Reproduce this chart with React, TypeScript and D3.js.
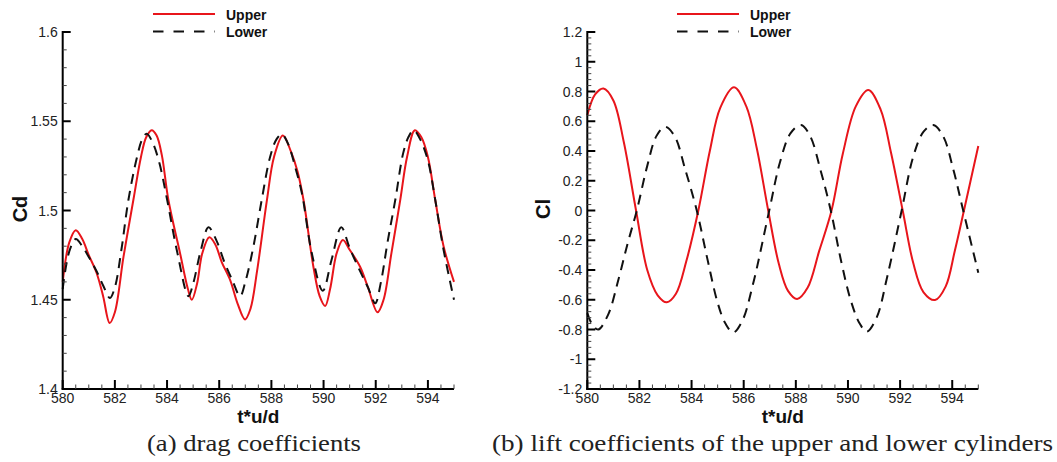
import React from "react";
import * as d3 from "d3";

// ---------- DATA ----------
// Drag coefficient, upper cylinder (red solid)
const cdUpperT = [580.0, 580.25, 580.5, 580.75, 581.0, 581.3, 581.55, 581.8, 582.0, 582.33, 582.71, 583.0, 583.2, 583.41, 583.6, 583.8, 584.05, 584.5, 584.8, 584.95, 585.15, 585.35, 585.62, 585.85, 586.1, 586.42, 586.7, 586.99, 587.2, 587.45, 587.83, 588.1, 588.44, 588.75, 589.0, 589.23, 589.61, 589.85, 590.06, 590.25, 590.5, 590.74, 591.0, 591.4, 591.7, 592.07, 592.3, 592.6, 592.94, 593.2, 593.5, 593.75, 594.0, 594.28, 594.6, 595.0];
const cdUpperV = [1.460, 1.482, 1.489, 1.484, 1.475, 1.465, 1.452, 1.437, 1.443, 1.474, 1.506, 1.530, 1.541, 1.545, 1.542, 1.531, 1.506, 1.476, 1.456, 1.450, 1.459, 1.476, 1.485, 1.481, 1.471, 1.461, 1.448, 1.439, 1.445, 1.466, 1.506, 1.530, 1.542, 1.533, 1.522, 1.506, 1.4685, 1.452, 1.4465, 1.456, 1.476, 1.4835, 1.478, 1.4685, 1.457, 1.443, 1.450, 1.476, 1.506, 1.530, 1.545, 1.541, 1.530, 1.506, 1.480, 1.460];

// Drag coefficient, lower cylinder (black dashed)
const cdLowerT = [580.0, 580.25, 580.5, 580.75, 581.0, 581.3, 581.55, 581.81, 582.0, 582.25, 582.52, 582.85, 583.05, 583.22, 583.45, 583.7, 583.99, 584.4, 584.82, 585.0, 585.3, 585.59, 585.9, 586.2, 586.5, 586.8, 587.0, 587.3, 587.63, 587.95, 588.2, 588.4, 588.65, 588.9, 589.17, 589.55, 589.97, 590.3, 590.68, 591.0, 591.4, 591.7, 591.98, 592.2, 592.45, 592.75, 593.05, 593.25, 593.45, 593.7, 594.0, 594.28, 594.6, 595.0];
const cdLowerV = [1.456, 1.477, 1.484, 1.480, 1.474, 1.466, 1.458, 1.451, 1.457, 1.478, 1.506, 1.530, 1.540, 1.543, 1.538, 1.527, 1.507, 1.476, 1.452, 1.459, 1.478, 1.4906, 1.483, 1.471, 1.461, 1.452, 1.460, 1.479, 1.506, 1.530, 1.540, 1.5427, 1.537, 1.525, 1.5096, 1.476, 1.455, 1.472, 1.4906, 1.479, 1.466, 1.457, 1.448, 1.460, 1.482, 1.506, 1.532, 1.541, 1.545, 1.540, 1.528, 1.506, 1.478, 1.450];

// Lift coefficient, upper cylinder (red solid)
const clUpperT = [580.0, 580.3, 580.62, 581.0, 581.4, 581.87, 582.3, 582.7, 583.05, 583.4, 583.8, 584.26, 584.7, 585.1, 585.63, 586.1, 586.5, 586.94, 587.35, 587.7, 588.05, 588.45, 588.9, 589.37, 589.8, 590.3, 590.78, 591.25, 591.65, 592.1, 592.5, 592.9, 593.34, 593.75, 594.1, 594.45, 595.0];
const clUpperV = [0.64, 0.78, 0.82, 0.74, 0.46, 0.0, -0.40, -0.57, -0.617, -0.56, -0.34, 0.0, 0.40, 0.69, 0.828, 0.70, 0.42, 0.0, -0.36, -0.54, -0.595, -0.52, -0.27, 0.0, 0.38, 0.70, 0.81, 0.68, 0.39, 0.0, -0.35, -0.55, -0.602, -0.51, -0.27, 0.0, 0.434];

// Lift coefficient, lower cylinder (black dashed)
const clLowerT = [580.0, 580.2, 580.42, 580.8, 581.2, 581.55, 581.9, 582.3, 582.65, 582.98, 583.35, 583.75, 584.2, 584.6, 585.0, 585.3, 585.6, 585.95, 586.35, 586.98, 587.4, 587.8, 588.2, 588.55, 588.95, 589.34, 589.75, 590.1, 590.45, 590.72, 591.1, 591.5, 592.06, 592.5, 592.9, 593.27, 593.65, 594.05, 594.42, 595.0];
const clLowerV = [-0.69, -0.77, -0.80, -0.70, -0.46, -0.22, 0.0, 0.30, 0.50, 0.563, 0.50, 0.28, 0.0, -0.32, -0.62, -0.76, -0.82, -0.74, -0.50, 0.0, 0.33, 0.52, 0.575, 0.50, 0.27, 0.0, -0.35, -0.60, -0.76, -0.815, -0.72, -0.45, 0.0, 0.36, 0.53, 0.575, 0.50, 0.27, 0.0, -0.418];

const xTicks = [580, 582, 584, 586, 588, 590, 592, 594];
const cdTicks = [1.4, 1.45, 1.5, 1.55, 1.6];
const cdTickLabels = ["1.4", "1.45", "1.5", "1.55", "1.6"];
const clTicks = [-1.2, -1, -0.8, -0.6, -0.4, -0.2, 0, 0.2, 0.4, 0.6, 0.8, 1, 1.2];
const clTickLabels = ["-1.2", "-1", "-0.8", "-0.6", "-0.4", "-0.2", "0", "0.2", "0.4", "0.6", "0.8", "1", "1.2"];
const seriesNames = ["Upper", "Lower"];
const yLabels = ["Cd", "Cl"];
const xLabel = "t*u/d";
const captions = ["(a) drag coefficients", "(b) lift coefficients of the upper and lower cylinders"];

// ---------- STYLE ----------
const RED = "#e8151b";
const SANS: React.CSSProperties = { fontFamily: "Liberation Sans" };
const SERIF: React.CSSProperties = { fontFamily: "Liberation Serif" };

function zip(t: number[], v: number[]) {
  return t.map((d, i) => [d, v[i]] as [number, number]);
}

type PanelProps = {
  x0: number;
  x1: number;
  yDomain: [number, number];
  ticks: number[];
  tickLabels: string[];
  minorStep: number;
  upper: [number, number][];
  lower: [number, number][];
  yLabel: string;
  yLabelX: number;
  caption: string;
  captionX: number;
  captionW: number;
  legendX: number;
};

function Panel(p: PanelProps) {
  const top = 32;
  const bot = 389;
  const x = d3.scaleLinear().domain([580, 595]).range([p.x0, p.x1]);
  const y = d3.scaleLinear().domain(p.yDomain).range([bot, top]);
  const line = d3
    .line<[number, number]>()
    .x((d) => x(d[0]))
    .y((d) => y(d[1]))
    .curve(d3.curveCatmullRom.alpha(0.5));

  const xMinor = d3.range(580, 595.001, 0.5).filter((v) => Math.abs(v / 2 - Math.round(v / 2)) > 1e-6);
  const nMinor = Math.round((p.yDomain[1] - p.yDomain[0]) / p.minorStep);
  const yMinor = d3.range(0, nMinor + 1).map((i) => p.yDomain[0] + i * p.minorStep)
    .filter((v) => !p.ticks.some((t) => Math.abs(t - v) < p.minorStep / 10));

  const midX = (p.x0 + p.x1) / 2;
  return (
    <g>
      {/* curves */}
      <path d={line(p.upper) || ""} fill="none" stroke={RED} strokeWidth={2} />
      <path d={line(p.lower) || ""} fill="none" stroke="#111" strokeWidth={2} strokeDasharray="10,7" />

      {/* axes */}
      <line x1={p.x0} x2={p.x0} y1={top - 1} y2={bot + 1} stroke="#000" strokeWidth={2} />
      <line x1={p.x0 - 1} x2={p.x1} y1={bot} y2={bot} stroke="#000" strokeWidth={2} />

      {/* y ticks */}
      {p.ticks.map((t, i) => (
        <g key={"yt" + i}>
          <line x1={p.x0} x2={p.x0 + 8} y1={y(t)} y2={y(t)} stroke="#000" strokeWidth={2} />
          <text x={p.x0 - 5} y={y(t) + 5} textAnchor="end" style={SANS} fontSize={14} fill="#222">
            {p.tickLabels[i]}
          </text>
        </g>
      ))}
      {yMinor.map((t, i) => (
        <line key={"ym" + i} x1={p.x0} x2={p.x0 + 4} y1={y(t)} y2={y(t)} stroke="#444" strokeWidth={1} />
      ))}

      {/* x ticks */}
      {xTicks.map((t) => (
        <g key={"xt" + t}>
          <line x1={x(t)} x2={x(t)} y1={bot} y2={bot - 9} stroke="#000" strokeWidth={2} />
          <text x={x(t)} y={403} textAnchor="middle" style={SANS} fontSize={14} fill="#222">
            {t}
          </text>
        </g>
      ))}
      {xMinor.map((t, i) => (
        <line key={"xm" + i} x1={x(t)} x2={x(t)} y1={bot} y2={bot - 4.5} stroke="#444" strokeWidth={1} />
      ))}

      {/* axis labels */}
      <text x={midX} y={423} textAnchor="middle" style={SANS} fontWeight="bold" fontSize={19} fill="#111">
        {xLabel}
      </text>
      <text
        transform={`translate(${p.yLabelX},209) rotate(-90)`}
        textAnchor="middle"
        style={SANS}
        fontWeight="bold"
        fontSize={20}
        fill="#111"
      >
        {p.yLabel}
      </text>

      {/* legend */}
      <line x1={p.legendX} x2={p.legendX + 62} y1={14} y2={14} stroke={RED} strokeWidth={2} />
      <line x1={p.legendX} x2={p.legendX + 62} y1={31.5} y2={31.5} stroke="#111" strokeWidth={2} strokeDasharray="10.5,10" />
      <text x={p.legendX + 73} y={19.5} style={SANS} fontWeight="bold" fontSize={14} fill="#111">
        {seriesNames[0]}
      </text>
      <text x={p.legendX + 73} y={36.5} style={SANS} fontWeight="bold" fontSize={14} fill="#111">
        {seriesNames[1]}
      </text>

      {/* caption */}
      <text
        x={p.captionX}
        y={451}
        style={SERIF}
        fontSize={23}
        fill="#222"
        textLength={p.captionW}
        lengthAdjust="spacingAndGlyphs"
      >
        {p.caption}
      </text>
    </g>
  );
}

export default function App() {
  return (
    <svg
      width={1057}
      height={462}
      style={{ position: "absolute", left: 0, top: 0, background: "#fff" }}
    >
      <rect x={0} y={0} width={1057} height={462} fill="#fff" />
      <Panel
        x0={62.7}
        x1={454}
        yDomain={[1.4, 1.6]}
        ticks={cdTicks}
        tickLabels={cdTickLabels}
        minorStep={0.01}
        upper={zip(cdUpperT, cdUpperV)}
        lower={zip(cdLowerT, cdLowerV)}
        yLabel={yLabels[0]}
        yLabelX={27}
        caption={captions[0]}
        captionX={147}
        captionW={214}
        legendX={153}
      />
      <Panel
        x0={587.3}
        x1={978.3}
        yDomain={[-1.2, 1.2]}
        ticks={clTicks}
        tickLabels={clTickLabels}
        minorStep={0.04}
        upper={zip(clUpperT, clUpperV)}
        lower={zip(clLowerT, clLowerV)}
        yLabel={yLabels[1]}
        yLabelX={550}
        caption={captions[1]}
        captionX={492}
        captionW={561}
        legendX={677}
      />
    </svg>
  );
}
